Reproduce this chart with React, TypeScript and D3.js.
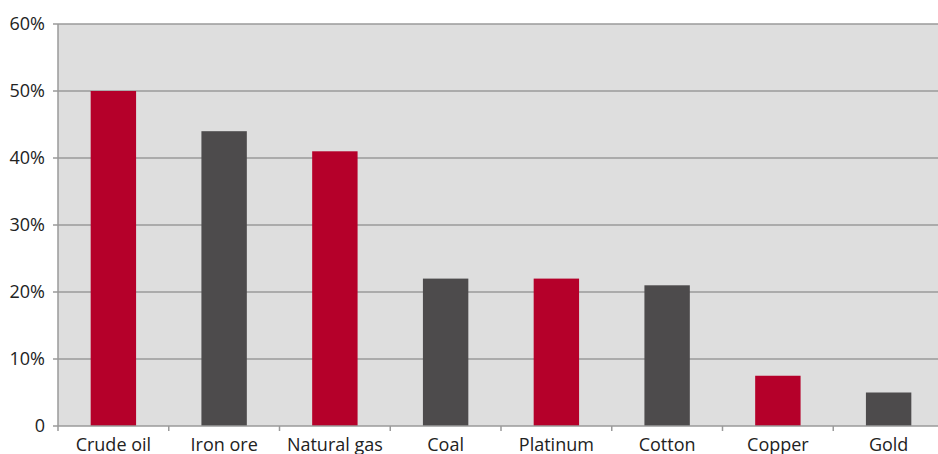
import React from "react";
import * as d3 from "d3";

const categories = ["Crude oil", "Iron ore", "Natural gas", "Coal", "Platinum", "Cotton", "Copper", "Gold"];
const values = [50, 44, 41, 22, 22, 21, 7.5, 5];
const barColors = ["#b5002a", "#4d4b4c", "#b5002a", "#4d4b4c", "#b5002a", "#4d4b4c", "#b5002a", "#4d4b4c"];
const yTicks = [0, 10, 20, 30, 40, 50, 60];

export default function App() {
  const W = 938, H = 454;
  const left = 58, right = 944, top = 24, bottom = 426;
  const x = d3.scaleBand<string>().domain(categories).range([left, right]).paddingInner(0.59).paddingOuter(0.295);
  const xb = d3.scaleBand<string>().domain(categories).range([left, right]);
  const y = d3.scaleLinear().domain([0, 60]).range([bottom, top]);
  const font = "'Open Sans', 'Noto Sans', sans-serif";
  return (
    <svg width={W} height={H} style={{ position: "absolute", left: 0, top: 0 }}>
      <rect x={left} y={top} width={right - left} height={bottom - top} fill="#dedede" />
      {yTicks.map((t) => (
        <g key={t}>
          {t > 0 && <line x1={left} x2={right} y1={y(t)} y2={y(t)} stroke="#9a9a9a" strokeWidth={1.5} />}
          <line x1={left - 5} x2={left} y1={y(t)} y2={y(t)} stroke="#9a9a9a" strokeWidth={1.5} />
          <text x={45} y={y(t)} dy="0.35em" textAnchor="end" fontFamily={font} fontSize={18} fill="#222">
            {t === 0 ? "0" : `${t}%`}
          </text>
        </g>
      ))}
      {categories.map((c, i) => (
        <rect key={c} x={x(c)} y={y(values[i])} width={x.bandwidth()} height={bottom - y(values[i])} fill={barColors[i]} />
      ))}
      <line x1={left} x2={left} y1={top} y2={bottom} stroke="#9a9a9a" strokeWidth={1.5} />
      <line x1={left} x2={right} y1={bottom} y2={bottom} stroke="#9a9a9a" strokeWidth={1.5} />
      {categories.map((c) => (
        <line key={c} x1={xb(c)} x2={xb(c)} y1={bottom} y2={bottom + 5} stroke="#9a9a9a" strokeWidth={1.5} />
      ))}
      {categories.map((c) => (
        <text key={c} x={(xb(c) as number) + xb.bandwidth() / 2} y={451} textAnchor="middle" fontFamily={font} fontSize={18} fill="#222">
          {c}
        </text>
      ))}
    </svg>
  );
}
